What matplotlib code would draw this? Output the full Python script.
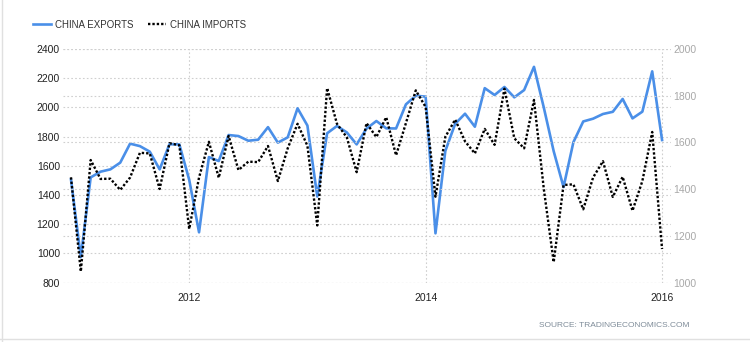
import matplotlib
matplotlib.use('Agg')
import matplotlib.pyplot as plt
import numpy as np
from matplotlib.lines import Line2D

plt.rcParams['font.family'] = ['Liberation Sans', 'DejaVu Sans']

# monthly values, Jan 2011 .. Jan 2016
exports = [1507, 975, 1521, 1560, 1576, 1622, 1752, 1735, 1697, 1576, 1748, 1747,
           1505, 1145, 1660, 1633, 1811, 1804, 1772, 1779, 1865, 1759, 1795, 1994,
           1876, 1390, 1823, 1873, 1829, 1747, 1855, 1907, 1857, 1856, 2021, 2080,
           2074, 1138, 1702, 1888, 1957, 1868, 2132, 2085, 2140, 2069, 2119, 2278,
           1998, 1700, 1455, 1762, 1904, 1923, 1955, 1970, 2058, 1925, 1971, 2247,
           1777]
imports = [1451, 1048, 1525, 1444, 1445, 1397, 1450, 1556, 1553, 1401, 1597, 1588,
           1230, 1450, 1603, 1449, 1628, 1482, 1518, 1516, 1585, 1435, 1575, 1680,
           1586, 1245, 1833, 1680, 1622, 1473, 1683, 1623, 1708, 1545, 1683, 1823,
           1752, 1368, 1624, 1698, 1605, 1553, 1658, 1590, 1830, 1618, 1575, 1782,
           1400, 1088, 1418, 1421, 1314, 1450, 1520, 1367, 1453, 1308, 1435, 1645,
           1144]
year_labels = ['2012', '2014', '2016']

months = np.arange(len(exports))

fig = plt.figure(figsize=(7.5, 3.42), dpi=100)
ax = fig.add_axes([0.0836, 0.1734, 0.8107, 0.6833])
ax2 = ax.twinx()

l1, = ax.plot(months, exports, color='#4a8fe8', lw=1.9, label='CHINA EXPORTS')
l2, = ax2.plot(months, imports, color='black', lw=1.7, ls=(0, (1, 0.85)),
               label='CHINA IMPORTS')

ax.set_xlim(-0.84, 60.88)
ax.set_ylim(800, 2400)
ax2.set_ylim(1000, 2000)
ax.set_yticks(range(800, 2401, 200))
ax2.set_yticks(range(1000, 2001, 200))
ax.set_xticks([12, 36, 60])
ax.set_xticklabels(year_labels)

for a in (ax, ax2):
    for s in a.spines.values():
        s.set_visible(False)

ax.tick_params(length=0, labelsize=7.5, colors='#222222')
ax.tick_params(axis='x', pad=7.5)
ax.tick_params(axis='y', pad=2)
ax2.tick_params(axis='y', length=0, labelsize=7.5, labelcolor='#a8a8a8', pad=2)

grid_kw = dict(color='#cfcfcf', lw=0.8, ls=(0, (1.5, 2)))
ax.grid(True, **grid_kw)
ax2.grid(True, axis='y', **grid_kw)

fig.legend([l1, l2], ['CHINA EXPORTS', 'CHINA IMPORTS'], loc='upper left',
           bbox_to_anchor=(0.032, 0.968), ncol=2, frameon=False, fontsize=7,
           handlelength=1.85, handletextpad=0.4, columnspacing=1.5,
           labelcolor='#333333')

fig.text(0.919, 0.0497, 'SOURCE: TRADINGECONOMICS.COM', ha='right', va='center',
         fontsize=6, color='#7f8c99')

fig.add_artist(Line2D([0.003, 0.003], [0, 1], color='#e0e0e0', lw=1,
                      transform=fig.transFigure))
fig.add_artist(Line2D([0, 1], [0.009, 0.009], color='#e0e0e0', lw=1,
                      transform=fig.transFigure))

fig.savefig('out.png', dpi=100)
